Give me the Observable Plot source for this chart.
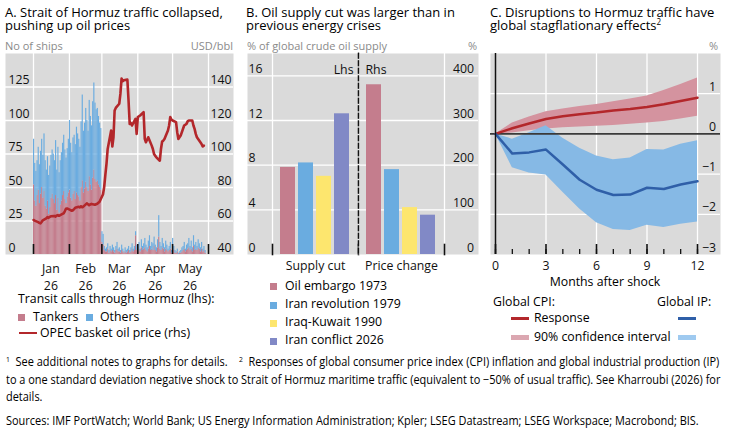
<!DOCTYPE html>
<html>
<head>
<meta charset="utf-8">
<script src="https://cdn.jsdelivr.net/npm/d3@7"></script>
<script src="https://cdn.jsdelivr.net/npm/@observablehq/plot@0.6"></script>
<style>
  html, body { margin: 0; padding: 0; background: #fff; }
  #page { position: relative; width: 730px; height: 435px; overflow: hidden;
          font-family: "Open Sans", sans-serif; color: #000; }
  .abs { position: absolute; white-space: nowrap; }
  .title { font-size: 13px; line-height: 13.3px; }
  .unit { font-size: 11px; line-height: 11px; color: #8a8a8a; }
  .lg { font-size: 12.3px; line-height: 15px; }
  .sq { position: absolute; width: 7px; height: 7px; }
  .ln { position: absolute; width: 18px; }
  .note { font-size: 12px; line-height: 17.5px; transform: scaleX(0.913); transform-origin: 0 0; }
  sup { font-size: 0.62em; vertical-align: 0.6em; line-height: 0; }
  .chart { position: absolute; top: 53px; }
  .chart svg { overflow: visible; }
</style>
</head>
<body>
<div id="page">
  <!-- titles -->
  <div class="abs title" style="left:5px;top:5.5px">A. Strait of Hormuz traffic collapsed,<br>pushing up oil prices</div>
  <div class="abs title" style="left:246px;top:5.5px">B. Oil supply cut was larger than in<br>previous energy crises</div>
  <div class="abs title" style="left:490px;top:5.5px">C. Disruptions to Hormuz traffic have<br>global stagflationary effects<sup>2</sup></div>

  <!-- unit labels -->
  <div class="abs unit" style="left:5px;top:39.5px">No of ships</div>
  <div class="abs unit" style="right:497px;top:39.5px">USD/bbl</div>
  <div class="abs unit" style="left:247px;top:39.5px">% of global crude oil supply</div>
  <div class="abs unit" style="right:253px;top:39.5px">%</div>
  <div class="abs unit" style="right:12px;top:39.5px">%</div>

  <!-- chart containers -->
  <div id="chartA" class="chart" style="left:5px"></div>
  <div id="chartA2" class="chart" style="left:5px"></div>
  <div id="chartB1" class="chart" style="left:247px"></div>
  <div id="chartB2" class="chart" style="left:358px"></div>
  <div id="chartC" class="chart" style="left:490px"></div>

  <div class="abs lg" style="left:490px;width:230px;text-align:center;top:274.4px">Months after shock</div>

  <!-- legend A -->
  <div class="abs lg" style="left:18px;top:290.7px">Transit calls through Hormuz (lhs):</div>
  <div class="sq" id="swTank" style="left:18px;top:314px"></div>
  <div class="abs lg" style="left:33px;top:308.7px">Tankers</div>
  <div class="sq" id="swOther" style="left:86px;top:314px"></div>
  <div class="abs lg" style="left:100px;top:308.7px">Others</div>
  <div class="ln" id="swPrice" style="left:19px;top:331.8px;height:2.6px"></div>
  <div class="abs lg" style="left:40px;top:325.2px">OPEC basket oil price (rhs)</div>

  <!-- legend B -->
  <div id="legendB"></div>

  <!-- legend C -->
  <div class="abs lg" style="left:493px;top:294.4px">Global CPI:</div>
  <div class="abs lg" style="left:657px;top:294.4px">Global IP:</div>
  <div class="ln" id="swCpi" style="left:511px;top:317px;height:2.8px"></div>
  <div class="abs lg" style="left:534px;top:310.4px">Response</div>
  <div class="ln" id="swIp" style="left:678px;top:317px;height:2.8px"></div>
  <div class="ln" id="swCpiBand" style="left:511px;top:335px;height:4.5px"></div>
  <div class="abs lg" style="left:534px;top:328.7px">90% confidence interval</div>
  <div class="ln" id="swIpBand" style="left:678px;top:335px;height:4.5px"></div>

  <!-- notes -->
  <div class="abs note" style="left:6px;top:353px"><sup>1</sup>&nbsp; See additional notes to graphs for details.&nbsp;&nbsp;&nbsp; <sup>2</sup>&nbsp; Responses of global consumer price index (CPI) inflation and global industrial production (IP)<br>to a one standard deviation negative shock to Strait of Hormuz maritime traffic (equivalent to −50% of usual traffic). See Kharroubi (2026) for<br>details.</div>
  <div class="abs note" style="left:6px;top:412px">Sources: IMF PortWatch; World Bank; US Energy Information Administration; Kpler; LSEG Datastream; LSEG Workspace; Macrobond; BIS.</div>
</div>

<script>
// ---------- Panel A: daily transit calls (1 Jan – 29 May 2026) and oil price ----------
const shipTypes = ["Tankers", "Others"];
const tankers = [
  52, 40, 36, 44, 48, 38, 45, 50, 42, 47, 36, 34, 40, 30, 35, 42, 45, 41, 38, 44, 33, 42, 31, 37, 40, 44, 47, 41, 38, 43, 46,
  48, 42, 40, 45, 47, 41, 46, 44, 43, 40, 50, 55, 46, 49, 54, 50, 47, 58, 52, 48, 57, 63, 56, 54, 55, 52, 50, 48,
  9, 7, 3, 2, 2, 4, 1, 3, 2, 3, 2, 1, 3, 4, 2, 2, 1, 3, 2, 1, 2, 1, 2, 3, 1, 2, 4, 2, 3, 14, 3,
  2, 4, 2, 5, 3, 4, 5, 3, 2, 4, 6, 3, 4, 3, 6, 3, 2, 5, 13, 4, 3, 5, 4, 2, 4, 3, 2, 3, 4, 1,
  5, 3, 1, 1, 2, 0, 1, 1, 2, 3, 4, 2, 3, 4, 5, 3, 4, 2, 6, 3, 4, 3, 5, 4, 2, 4, 2, 3, 1
];
const others = [
  34, 28, 26, 26, 32, 29, 32, 36, 32, 43, 34, 29, 33, 29, 31, 32, 33, 34, 32, 41, 30, 38, 30, 33, 36, 39, 42, 37, 34, 36, 40,
  52, 41, 36, 42, 42, 41, 49, 46, 43, 40, 49, 64, 46, 49, 55, 50, 45, 57, 51, 48, 57, 65, 57, 54, 54, 51, 48, 46,
  8, 8, 3, 2, 3, 4, 2, 3, 2, 4, 3, 2, 3, 5, 2, 3, 2, 4, 2, 1, 3, 2, 2, 3, 2, 3, 4, 2, 3, 3, 4,
  3, 5, 2, 6, 3, 4, 7, 4, 3, 6, 8, 3, 5, 5, 7, 4, 3, 6, 16, 5, 3, 7, 4, 3, 6, 4, 2, 3, 5, 2,
  7, 3, 2, 1, 2, 1, 1, 2, 3, 3, 5, 2, 4, 4, 7, 3, 6, 3, 8, 4, 5, 3, 6, 4, 3, 5, 2, 3, 2
];
const priceDates = [
  "2026-01-01","2026-01-02","2026-01-05","2026-01-06","2026-01-07","2026-01-08","2026-01-09",
  "2026-01-12","2026-01-13","2026-01-14","2026-01-15","2026-01-16","2026-01-19","2026-01-20",
  "2026-01-21","2026-01-22","2026-01-23","2026-01-26","2026-01-27","2026-01-28","2026-01-29",
  "2026-01-30","2026-02-02","2026-02-03","2026-02-04","2026-02-05","2026-02-06","2026-02-09",
  "2026-02-10","2026-02-11","2026-02-12","2026-02-13","2026-02-16","2026-02-17","2026-02-18",
  "2026-02-19","2026-02-20","2026-02-23","2026-02-24","2026-02-25","2026-02-26","2026-02-27",
  "2026-03-02","2026-03-03","2026-03-04","2026-03-05","2026-03-06","2026-03-09","2026-03-10",
  "2026-03-11","2026-03-12","2026-03-13","2026-03-16","2026-03-17","2026-03-18","2026-03-19",
  "2026-03-20","2026-03-23","2026-03-24","2026-03-25","2026-03-26","2026-03-27","2026-03-30",
  "2026-03-31","2026-04-01","2026-04-02","2026-04-03","2026-04-06","2026-04-07","2026-04-08",
  "2026-04-09","2026-04-10","2026-04-13","2026-04-14","2026-04-15","2026-04-16","2026-04-17",
  "2026-04-20","2026-04-21","2026-04-22","2026-04-23","2026-04-24","2026-04-27","2026-04-28",
  "2026-04-29","2026-04-30","2026-05-01","2026-05-04","2026-05-05","2026-05-06","2026-05-07",
  "2026-05-08","2026-05-11","2026-05-12","2026-05-13","2026-05-14","2026-05-15","2026-05-18",
  "2026-05-19","2026-05-20","2026-05-21","2026-05-22","2026-05-25","2026-05-26","2026-05-27",
  "2026-05-28"
];
const priceValues = [
  60.6, 60.2, 59.3, 58.9, 58.6, 59.4, 60.4,
  61.6, 62.3, 61.9, 62.4, 62.8, 63.0, 62.6,
  63.3, 63.5, 63.1, 64.2, 64.6, 65.8, 67.3,
  67.5, 66.5, 66.1, 66.4, 67.1, 67.9, 68.5,
  68.1, 68.8, 68.2, 68.6, 70.5, 70.0, 69.4,
  69.9, 70.2, 69.7, 70.0, 70.3, 70.9, 71.5,
  76.0, 80.4, 87.5, 94.3, 103.0, 114.0, 104.5,
  110.0, 126.0, 127.5, 130.0, 136.0, 145.0, 143.5,
  144.0, 144.4, 132.0, 118.0, 118.5, 117.0, 121.0,
  112.0, 122.0, 122.5, 123.0, 125.0, 109.0, 107.0,
  108.5, 110.0, 105.0, 103.0, 100.0, 99.0, 98.0,
  96.0, 103.0, 107.5, 108.0, 109.0, 114.0, 117.0,
  122.0, 120.5, 120.0, 119.0, 113.0, 109.0, 110.0,
  111.0, 117.0, 117.5, 118.0, 119.5, 120.0, 120.0,
  117.0, 115.0, 112.0, 110.0, 107.0, 106.0, 104.5,
  105.0
];
const shipTicks = [0, 25, 50, 75, 100, 125];
const priceTicks = [40, 60, 80, 100, 120, 140];
const monthStarts = ["2026-01-01","2026-02-01","2026-03-01","2026-04-01","2026-05-01","2026-06-01"];
const monthLabelDates = ["2026-01-16","2026-02-15","2026-03-16","2026-04-16","2026-05-16"];

// ---------- Panel B: supply cut (lhs) and oil price change (rhs) ----------
const crises = ["Oil embargo 1973", "Iran revolution 1979", "Iraq-Kuwait 1990", "Iran conflict 2026"];
const supplyCut = [7.8, 8.2, 7.0, 12.6];
const priceChange = [380, 190, 105, 88];
const cutTicks = [0, 4, 8, 12, 16];
const changeTicks = [0, 100, 200, 300, 400];
const groupLabels = ["Supply cut", "Price change"];

// ---------- Panel C: impulse responses, months after shock ----------
const horizon = [0, 1, 2, 3, 4, 5, 6, 7, 8, 9, 10, 11, 12];
const cpiResp = [0, 0.14, 0.26, 0.37, 0.44, 0.49, 0.53, 0.58, 0.62, 0.67, 0.74, 0.82, 0.90];
const cpiLo   = [0, 0.02, 0.08, 0.12, 0.15, 0.17, 0.19, 0.21, 0.24, 0.27, 0.31, 0.37, 0.44];
const cpiHi   = [0, 0.27, 0.42, 0.55, 0.62, 0.68, 0.73, 0.80, 0.87, 0.94, 1.08, 1.23, 1.39];
const ipResp  = [0, -0.49, -0.46, -0.39, -0.76, -1.14, -1.39, -1.52, -1.51, -1.34, -1.37, -1.26, -1.18];
const ipLo    = [0, -0.84, -0.97, -1.02, -1.45, -1.87, -2.21, -2.38, -2.40, -2.27, -2.33, -2.25, -2.19];
const ipHi    = [0, -0.13, 0.03, 0.20, -0.11, -0.36, -0.55, -0.64, -0.60, -0.39, -0.40, -0.26, -0.17];
const majorMonths = [0, 3, 6, 9, 12];
const respTicks = [-3, -2, -1, 0, 1];

// ---------- palette ----------
const BG = "#dadada";
const PINK = "#c47d8d", BLUE = "#6aace0", YELLOW = "#fde66e", PURPLE = "#8189c6";
const RED = "#b3272b", NAVY = "#2f5fa8";
const CPI_BAND = "#d4939f", IP_BAND = "#86b9e5";
const crisisColors = [PINK, BLUE, YELLOW, PURPLE];

// ---------- shared geometry ----------
const FRAME_H = 201, BOTTOM = 36, H = FRAME_H + BOTTOM, TICK = 10;
const font = {fontFamily: "'Open Sans', sans-serif", fontSize: "12.3px", color: "#111", background: "transparent"};
const day = 864e5;
const t0 = Date.UTC(2026, 0, 1);
const utc = s => new Date(s + "T00:00:00Z");
// axis text sits just above its gridline, without tick marks or axis titles
const leftAxis = pad => ({anchor: "left", label: null, tickSize: 0, tickPadding: pad, textAnchor: "start", lineAnchor: "bottom", dy: -3});
const rightAxis = pad => ({anchor: "right", label: null, tickSize: 0, tickPadding: pad, textAnchor: "end", lineAnchor: "bottom", dy: -3});

// ---------- Panel A ----------
const shipRows = [];
tankers.forEach((v, i) => shipRows.push({date: new Date(t0 + i * day), type: "Tankers", ships: v}));
others.forEach((v, i) => shipRows.push({date: new Date(t0 + i * day), type: "Others", ships: v}));
const priceRows = priceDates.map((d, i) => ({date: utc(d), price: priceValues[i]}));
const xDomainA = [utc(monthStarts[0]), utc(monthStarts[monthStarts.length - 1])];
const mA = {marginLeft: 28, marginRight: 25, marginTop: 0, marginBottom: BOTTOM, width: 228, height: H};

document.getElementById("chartA").append(Plot.plot({
  ...mA, style: font,
  x: {type: "utc", domain: xDomainA, label: null},
  y: {domain: [0, 150], label: null},
  color: {domain: shipTypes, range: [PINK, BLUE]},
  marks: [
    Plot.frame({fill: BG, stroke: "none", insetLeft: -mA.marginLeft, insetRight: -mA.marginRight}),
    Plot.ruleY(shipTicks.filter(d => d > 0), {stroke: "white", strokeWidth: 1.3, insetLeft: -mA.marginLeft, insetRight: -mA.marginRight}),
    Plot.ruleX(monthStarts.map(utc), {stroke: "white", strokeWidth: 1.3}),
    Plot.rectY(shipRows, {x: "date", y: "ships", fill: "type", interval: "day", inset: 0}),
    Plot.ruleX(monthStarts.map(utc), {stroke: "#111", strokeWidth: 1.6, insetTop: FRAME_H - TICK}),
    Plot.axisY(shipTicks, leftAxis(25)),
    Plot.axisX(monthLabelDates.map(utc), {label: null, tickSize: 0, tickPadding: 7, tickFormat: d3.utcFormat("%b\n%y"), lineHeight: 1.36})
  ]
}));

document.getElementById("chartA2").append(Plot.plot({
  ...mA, style: font,
  x: {type: "utc", domain: xDomainA, axis: null},
  y: {domain: [40, 160], label: null},
  marks: [
    Plot.lineY(priceRows, {x: "date", y: "price", stroke: RED, strokeWidth: 2.6}),
    Plot.axisY(priceTicks, rightAxis(23))
  ]
}));

// ---------- Panel B ----------
const xB = {domain: crises, paddingInner: 0.14, paddingOuter: 0.42, axis: null};
const colorB = {domain: crises, range: crisisColors};
const cutRows = crises.map((c, i) => ({crisis: c, value: supplyCut[i]}));
const changeRows = crises.map((c, i) => ({crisis: c, value: priceChange[i]}));

document.getElementById("chartB1").append(Plot.plot({
  width: 111, height: H, marginLeft: 25, marginRight: 0, marginTop: 0, marginBottom: BOTTOM, style: font,
  x: xB, y: {domain: [0, 18], label: null}, color: colorB,
  marks: [
    Plot.frame({fill: BG, stroke: "none", insetLeft: -25}),
    Plot.ruleY(cutTicks.filter(d => d > 0), {stroke: "white", strokeWidth: 1.3, insetLeft: -25}),
    Plot.frame({anchor: "left", stroke: "white", strokeWidth: 1.3}),
    Plot.barY(cutRows, {x: "crisis", y: "value", fill: "crisis"}),
    Plot.frame({anchor: "left", stroke: "#111", strokeWidth: 1.6, insetTop: FRAME_H - TICK}),
    Plot.frame({anchor: "right", stroke: "#111", strokeWidth: 1.3, strokeDasharray: "4.5,3"}),
    Plot.frame({anchor: "right", stroke: "#111", strokeWidth: 1.6, insetTop: FRAME_H - TICK}),
    Plot.text(["Lhs"], {frameAnchor: "top-right", dx: -5, dy: 12, lineAnchor: "top", textAnchor: "end"}),
    Plot.text([groupLabels[0]], {frameAnchor: "bottom", dy: 7, lineAnchor: "top"}),
    Plot.axisY(cutTicks, leftAxis(24))
  ]
}));

document.getElementById("chartB2").append(Plot.plot({
  width: 120, height: H, marginLeft: 0, marginRight: 34, marginTop: 0, marginBottom: BOTTOM, style: font,
  x: xB, y: {domain: [0, 450], label: null}, color: colorB,
  marks: [
    Plot.frame({fill: BG, stroke: "none", insetRight: -34}),
    Plot.ruleY(changeTicks.filter(d => d > 0), {stroke: "white", strokeWidth: 1.3, insetRight: -34}),
    Plot.frame({anchor: "right", stroke: "white", strokeWidth: 1.3}),
    Plot.barY(changeRows, {x: "crisis", y: "value", fill: "crisis"}),
    Plot.frame({anchor: "left", stroke: "#111", strokeWidth: 1.3, strokeDasharray: "4.5,3"}),
    Plot.frame({anchor: "right", stroke: "#111", strokeWidth: 1.6, insetTop: FRAME_H - TICK}),
    Plot.text(["Rhs"], {frameAnchor: "top-left", dx: 7, dy: 12, lineAnchor: "top", textAnchor: "start"}),
    Plot.text([groupLabels[1]], {frameAnchor: "bottom", dy: 7, lineAnchor: "top"}),
    Plot.axisY(changeTicks, rightAxis(29.5))
  ]
}));

// ---------- Panel C ----------
const respRows = horizon.map((m, i) => ({
  m, cpi: cpiResp[i], cpiLo: cpiLo[i], cpiHi: cpiHi[i], ip: ipResp[i], ipLo: ipLo[i], ipHi: ipHi[i]
}));
document.getElementById("chartC").append(Plot.plot({
  width: 230, height: H, marginLeft: 5, marginRight: 23, marginTop: 0, marginBottom: BOTTOM, style: font,
  x: {domain: [0, 12], label: null},
  y: {domain: [-3, 2], label: null},
  marks: [
    Plot.frame({fill: BG, stroke: "none", insetLeft: -5, insetRight: -23}),
    Plot.ruleY(respTicks.filter(d => d !== 0 && d !== -3), {stroke: "white", strokeWidth: 1.3, insetLeft: -5, insetRight: -23}),
    Plot.ruleX(majorMonths.filter(d => d > 0), {stroke: "white", strokeWidth: 1.3}),
    Plot.areaY(respRows, {x: "m", y1: "cpiLo", y2: "cpiHi", fill: CPI_BAND}),
    Plot.areaY(respRows, {x: "m", y1: "ipLo", y2: "ipHi", fill: IP_BAND}),
    Plot.ruleY([0], {stroke: "#3a3a3a", strokeWidth: 1.7, insetLeft: -5, insetRight: -23}),
    Plot.lineY(respRows, {x: "m", y: "cpi", stroke: RED, strokeWidth: 2.5}),
    Plot.lineY(respRows, {x: "m", y: "ip", stroke: NAVY, strokeWidth: 2.5}),
    Plot.ruleX(horizon, {stroke: "#111", strokeWidth: 1.3, insetTop: FRAME_H - 5}),
    Plot.ruleX(majorMonths, {stroke: "#111", strokeWidth: 1.6, insetTop: FRAME_H - TICK}),
    Plot.ruleX([0], {stroke: "#111", strokeWidth: 1.5}),
    Plot.axisY(respTicks, rightAxis(18.5)),
    Plot.axisX(majorMonths, {label: null, tickSize: 0, tickPadding: 7})
  ]
}));

// ---------- legends ----------
document.getElementById("swTank").style.background = PINK;
document.getElementById("swOther").style.background = BLUE;
document.getElementById("swPrice").style.background = RED;
document.getElementById("swCpi").style.background = RED;
document.getElementById("swIp").style.background = NAVY;
document.getElementById("swCpiBand").style.background = "#dba7b1";
document.getElementById("swIpBand").style.background = "#9fcaf0";

const legendB = document.getElementById("legendB");
crises.forEach((c, i) => {
  const top = 277.7 + i * 18.2;
  const sw = document.createElement("div");
  sw.className = "sq";
  sw.style.cssText = `left:270px;top:${top + 5.6}px;background:${crisisColors[i]}`;
  const tx = document.createElement("div");
  tx.className = "abs lg";
  tx.style.cssText = `left:285px;top:${top}px`;
  tx.textContent = c;
  legendB.append(sw, tx);
});
</script>
</body>
</html>
